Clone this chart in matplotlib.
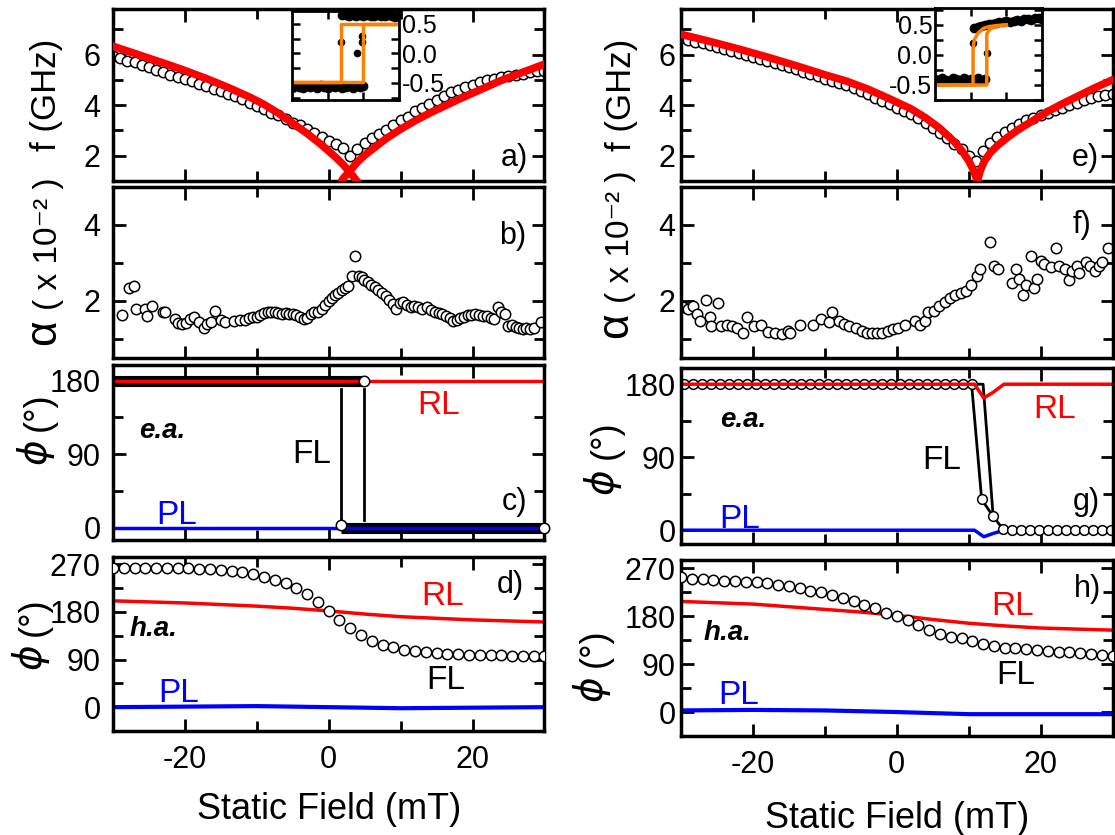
import matplotlib.pyplot as plt
from matplotlib.ticker import MultipleLocator

plt.rcParams['font.family'] = ['Liberation Sans', 'DejaVu Sans']
plt.rcParams['axes.unicode_minus'] = False

# ---------------- data ----------------
# (a) dispersion, left sample
a_field = list(range(-30, 31))
a_freq = [5.95, 5.85, 5.75, 5.7, 5.6, 5.5, 5.4, 5.3, 5.2, 5.1,
          5.05, 4.95, 4.85, 4.75, 4.65, 4.55, 4.45, 4.35, 4.25, 4.1,
          3.95, 3.85, 3.7, 3.6, 3.45, 3.3, 3.2, 3.05, 2.9, 2.75,
          2.6, 2.45, 2.3, 2.0, 2.25, 2.5, 2.7, 2.85, 3.0, 3.2,
          3.4, 3.55, 3.75, 3.9, 4.05, 4.2, 4.35, 4.5, 4.6, 4.7,
          4.8, 4.9, 5.0, 5.05, 5.1, 5.15, 5.2, 5.25, 5.3, 5.35, 5.35]
a_fit1_field = [-30, -26, -22, -20, -17, -14, -11, -9, -7, -5, -3, -1, 1, 2, 3, 4, 4.5]
a_fit1 = [6.33, 5.95, 5.57, 5.37, 5.05, 4.7, 4.32, 4.03, 3.68, 3.28, 2.88, 2.43, 1.93,
          1.65, 1.33, 0.97, 0.8]
a_fit2_field = [1.5, 2, 3, 4, 5, 6.5, 8, 10, 12, 14, 16, 18, 21, 24, 27, 30]
a_fit2 = [0.85, 1.1, 1.42, 1.75, 2.02, 2.35, 2.68, 3.05, 3.38, 3.68, 3.95, 4.22, 4.6,
          4.98, 5.3, 5.62]

# inset of (a): hysteresis loop
ia_low_field = [-30, -28, -26, -24, -22, -20, -18, -16, -14, -12, -10,
                -8, -6, -4, -2, 0, 2, 4, 6, 8, 10]
ia_low = [-0.58, -0.56, -0.57, -0.59, -0.55, -0.57, -0.56, -0.58, -0.54, -0.57, -0.58,
          -0.55, -0.57, -0.56, -0.58, -0.57, -0.55, -0.58, -0.56, -0.57, -0.56]
ia_high_field = [-2, 0, 2, 4, 6, 8, 10, 12, 14, 16, 18, 20, 22, 24, 26, 28, 30]
ia_high = [0.65, 0.66, 0.64, 0.65, 0.63, 0.66, 0.64, 0.65, 0.63, 0.64, 0.66,
           0.64, 0.63, 0.65, 0.64, 0.62, 0.63]
ia_mid_field = [-2.5, 6.4, 9.1, 9.5]
ia_mid = [0.19, 0.0, 0.29, 0.19]
ia_up_field = [-30, 10, 10, 30]
ia_up = [-0.48, -0.48, 0.5, 0.5]
ia_down_field = [30, -2.5, -2.5, -30]
ia_down = [0.5, 0.5, -0.48, -0.48]

# (b) damping, left sample
b_field = [-28.7, -27.8, -27.1, -26.8, -25.6, -25.2, -24.6, -23.1, -22.8, -21.4,
           -21.0, -20.4, -19.9, -19.3, -18.7, -18.0, -17.3, -16.9, -16.4, -15.8,
           -15.0, -14.4, -13.2, -12.3, -11.7, -11.1, -10.5, -10.0, -9.5, -9.0,
           -8.5, -8.0, -7.5, -7.0, -6.5, -6.0, -5.5, -5.0, -4.5, -4.0,
           -3.5, -3.0, -2.5, -2.0, -1.5, -1.0, -0.5, 0.0, 0.4, 0.9,
           1.3, 1.8, 2.2, 2.7, 3.2, 3.6, 4.2, 4.6, 4.9, 5.4,
           5.9, 6.4, 6.9, 7.4, 7.9, 8.4, 8.9, 9.3, 9.9, 10.4,
           10.9, 11.4, 11.9, 12.4, 13.0, 13.6, 14.2, 14.8, 15.3, 15.8,
           16.3, 16.8, 17.3, 17.8, 18.3, 18.8, 19.3, 19.8, 20.3, 20.9,
           21.5, 22.0, 22.5, 23.0, 23.6, 24.0, 24.5, 25.0, 25.5, 26.0,
           26.5, 27.0, 27.5, 28.0, 28.5, 29.5]
b_alpha = [1.63, 2.34, 2.40, 1.80, 1.78, 1.61, 1.87, 1.72, 1.70, 1.53,
           1.42, 1.40, 1.42, 1.52, 1.57, 1.44, 1.28, 1.40, 1.44, 1.74,
           1.50, 1.44, 1.48, 1.50, 1.51, 1.55, 1.57, 1.58, 1.62, 1.68,
           1.70, 1.72, 1.70, 1.68, 1.66, 1.68, 1.67, 1.66, 1.63, 1.58,
           1.53, 1.55, 1.66, 1.70, 1.72, 1.80, 1.89, 2.00, 2.09, 2.15,
           2.20, 2.28, 2.35, 2.40, 2.65, 3.18, 2.65, 2.62, 2.56, 2.50,
           2.43, 2.36, 2.30, 2.22, 2.13, 2.02, 1.91, 1.78, 1.95, 1.96,
           1.90, 1.83, 1.86, 1.83, 1.78, 1.83, 1.75, 1.70, 1.68, 1.66,
           1.60, 1.55, 1.48, 1.50, 1.55, 1.57, 1.62, 1.64, 1.66, 1.63,
           1.61, 1.60, 1.56, 1.53, 1.83, 1.72, 1.66, 1.35, 1.38, 1.31,
           1.29, 1.27, 1.30, 1.27, 1.28, 1.44]

# (c) easy axis angles, left sample
c_rl_field = [-30, 30]
c_rl = [180, 180]
c_pl_field = [-30, 30]
c_pl = [0, 0]
c_fl_top_field = [-30, 4.9]
c_fl_top = [180, 180]
c_fl_bot_field = [1.7, 30]
c_fl_bot = [0, 0]
c_sw1_field = [1.7, 1.7]
c_sw1 = [8, 170]
c_sw2_field = [4.9, 4.9]
c_sw2 = [10, 170]
c_pts_field = [4.9, 1.7, 30]
c_pts = [180, 3, 0]

# (d) hard axis angles, left sample
d_field = [-30, -28.5, -27, -25.5, -24, -22.5, -21, -19.5, -18, -16.5,
           -15, -13.5, -12, -10.5, -9, -7.5, -6, -4.5, -3, -1.5,
           0, 1.5, 3, 4.5, 6, 7.5, 9, 10.5, 12, 13.5,
           15, 16.5, 18, 19.5, 21, 22.5, 24, 25.5, 27, 28.5, 30]
d_fl = [264, 264, 264, 264, 264, 264, 263, 263, 262, 261,
        260, 258, 255, 251, 247, 241, 234, 225, 214, 199,
        182, 165, 150, 137, 126, 118, 113, 109, 106, 104,
        102, 101, 100, 99.5, 99, 98.5, 98, 97.5, 97, 96.5, 96]
d_rl_field = [-30, -20, -10, -5, 0, 5, 10, 15, 20, 25, 30]
d_rl = [201, 197, 191, 187, 182, 176, 171, 168, 165, 163, 161]
d_pl_field = [-30, -20, -10, 0, 10, 20, 30]
d_pl = [0, 1, 2, 0, -2, -1, 0]

# (e) dispersion, right sample
e_field = list(range(-30, 31))
e_freq = [6.65, 6.58, 6.51, 6.44, 6.37, 6.3, 6.22, 6.14, 6.06, 5.98,
          5.9, 5.82, 5.74, 5.66, 5.58, 5.5, 5.41, 5.32, 5.23, 5.14,
          5.05, 4.96, 4.87, 4.78, 4.68, 4.55, 4.43, 4.3, 4.17, 4.04,
          3.9, 3.78, 3.64, 3.5, 3.3, 3.1, 2.9, 2.7, 2.48, 2.25,
          2.0, 1.8, 2.2, 2.5, 2.75, 2.95, 3.1, 3.25, 3.4, 3.5,
          3.6, 3.7, 3.8, 3.9, 4.0, 4.1, 4.2, 4.3, 4.35, 4.4, 4.45]
e_fit1_field = [-30, -26, -22, -18, -14, -10, -7, -4, -1, 2, 4, 6, 8, 9, 10, 10.7, 11.2]
e_fit1 = [6.8, 6.52, 6.22, 5.9, 5.56, 5.2, 4.95, 4.63, 4.25, 3.85, 3.5, 3.08, 2.55,
          2.22, 1.8, 1.4, 1.0]
e_fit2_field = [11.2, 11.6, 12.2, 13, 14, 15.5, 17, 19, 21, 23, 25, 27.5, 30]
e_fit2 = [1.0, 1.4, 1.8, 2.12, 2.4, 2.75, 3.05, 3.4, 3.75, 4.05, 4.33, 4.68, 5.0]

# inset of (e)
ie_low_field = [-30, -28, -26, -24, -22, -20, -18, -16, -14, -12, -10, -8, -6, -4, -2]
ie_low = [-0.40, -0.42, -0.38, -0.41, -0.43, -0.39, -0.40, -0.42, -0.38, -0.41,
          -0.40, -0.43, -0.39, -0.41, -0.40]
ie_high_field = [-8, -6, -4, -2, 0, 2, 4, 6, 8, 10, 12, 14, 16, 18, 20, 22, 24, 26, 28, 30]
ie_high = [0.45, 0.47, 0.48, 0.50, 0.52, 0.51, 0.53, 0.55, 0.54, 0.56,
           0.55, 0.57, 0.58, 0.56, 0.59, 0.60, 0.58, 0.61, 0.62, 0.60]
ie_mid_field = [-8.7, -1.0]
ie_mid = [0.2, 0.03]
ie_down_field = [10, 5, 0, -3, -6, -8, -8.7, -8.7, -30]
ie_down = [0.5, 0.49, 0.47, 0.44, 0.36, 0.25, 0.1, -0.5, -0.5]
ie_up_field = [-30, -1, -1, 1, 5, 10]
ie_up = [-0.5, -0.5, 0.35, 0.44, 0.48, 0.5]

# (f) damping, right sample
f_field = [-29.7, -29.1, -28.4, -27.8, -27.3, -26.5, -26.0, -25.8, -24.9, -24.4,
           -23.6, -22.9, -22.2, -21.4, -20.8, -19.9, -18.9, -17.9, -16.9, -15.9,
           -15.1, -14.8, -13.4, -11.6, -10.5, -9.4, -9.0, -8.1, -7.4, -6.7,
           -5.7, -4.9, -4.2, -3.4, -2.7, -2.0, -1.2, -0.5, 0.2, 1.2,
           2.5, 3.2, 3.9, 4.4, 5.2, 5.9, 6.7, 7.4, 8.1, 8.9,
           9.6, 10.3, 11.1, 11.6, 13.0, 13.5, 14.1, 16.0, 16.6, 17.0,
           17.5, 18.0, 18.6, 19.1, 19.5, 20.0, 20.5, 21.4, 22.2, 22.5,
           23.4, 24.0, 24.3, 25.0, 25.4, 26.3, 26.8, 27.6, 28.1, 28.6, 29.4]
f_alpha = [1.83, 1.78, 1.87, 1.65, 1.48, 2.03, 1.57, 1.35, 1.94, 1.35,
           1.37, 1.33, 1.29, 1.17, 1.59, 1.35, 1.37, 1.19, 1.17, 1.13,
           1.22, 1.17, 1.37, 1.37, 1.52, 1.45, 1.71, 1.48, 1.39, 1.35,
           1.28, 1.22, 1.17, 1.16, 1.16, 1.17, 1.22, 1.26, 1.29, 1.37,
           1.48, 1.37, 1.48, 1.70, 1.74, 1.87, 1.97, 2.09, 2.17, 2.22,
           2.26, 2.41, 2.65, 2.84, 3.54, 2.93, 2.83, 2.46, 2.83, 2.58,
           2.15, 2.41, 3.19, 2.35, 2.57, 3.06, 2.96, 2.90, 3.39, 2.91,
           2.83, 2.55, 2.78, 2.93, 2.74, 3.02, 2.93, 2.78, 2.91, 3.02, 3.39]

# (g) easy axis angles, right sample
g_top_field = [-29.6, -28.35, -27.1, -25.85, -24.6, -23.35, -22.1, -20.85, -19.6, -18.35,
               -17.1, -15.85, -14.6, -13.35, -12.1, -10.85, -9.6, -8.35, -7.1, -5.85,
               -4.6, -3.35, -2.1, -0.85, 0.4, 1.65, 2.9, 4.15, 5.4, 6.65,
               7.9, 9.15, 10.4, 11.8, 13.4, 14.8, 16.05, 17.3, 18.55, 19.8,
               21.05, 22.3, 23.55, 24.8, 26.05, 27.3, 28.55, 29.8]
g_fl = [180, 180, 180, 180, 180, 180, 180, 180, 180, 180,
        180, 180, 180, 180, 180, 180, 180, 180, 180, 180,
        180, 180, 180, 180, 180, 180, 180, 180, 180, 180,
        180, 180, 180, 38, 17, 1, 0, 0, 0, 0,
        0, 0, 0, 0, 0, 0, 0, 0]
g_fl2_field = [-30, 12.0, 13.4]
g_fl2 = [180, 180, 17]
g_rl_field = [-30, 10.8, 12.1, 13.4, 14.9, 30]
g_rl = [180, 180, 163, 170, 180, 180]
g_pl_field = [-30, 10.8, 12.1, 13.4, 14.9, 30]
g_pl = [0, 0, -8, -4, 0, 0]

# (h) hard axis angles, right sample
h_field = d_field
h_fl = [253.7, 250.4, 250.4, 249.1, 247.2, 245.9, 245.2, 243.9, 242.0, 239.4,
        236.1, 232.9, 227.6, 225.7, 219.8, 214.6, 208.0, 201.5, 195.0, 186.5,
        180.0, 172.2, 164.4, 154.0, 146.1, 140.9, 138.3, 133.1, 127.9, 123.3,
        121.3, 120.0, 118.7, 116.8, 114.8, 113.5, 112.2, 110.3, 109.0, 107.0, 105.7]
h_rl_field = [-30, -20, -10, -5, 0, 5, 10, 15, 20, 25, 30]
h_rl = [208, 203, 193, 188, 182, 174, 167, 162, 158, 156, 154]
h_pl_field = [-30, -20, -10, 0, 10, 20, 30]
h_pl = [3, 4, 3, 0, -4, -4, -4]

# ---------------- figure ----------------
fig = plt.figure(figsize=(11.15, 8.35), dpi=100)
col_w = 0.387
left_rows = [(0.7832, 0.2060), (0.5713, 0.2048), (0.3533, 0.2096), (0.1246, 0.2084)]
right_rows = [(0.7832, 0.2060), (0.5713, 0.2048), (0.3485, 0.2108), (0.1186, 0.2108)]

axes = [[fig.add_axes([0.1013, rb, col_w, rh]) for rb, rh in left_rows],
        [fig.add_axes([0.6108, rb, col_w, rh]) for rb, rh in right_rows]]

TICK = 22
ANN = 24


def style(ax, ylim, ymaj, ymin, ypad, xlabels=False, xlabpad=12):
    ax.set_xlim(-30, 30)
    ax.set_ylim(*ylim)
    ax.xaxis.set_major_locator(MultipleLocator(20))
    ax.xaxis.set_minor_locator(MultipleLocator(10))
    ax.yaxis.set_major_locator(MultipleLocator(ymaj))
    ax.yaxis.set_minor_locator(MultipleLocator(ymin))
    ax.tick_params(which='both', direction='in', top=True, right=True, width=2)
    ax.tick_params(which='major', length=9, labelsize=TICK)
    ax.tick_params(which='minor', length=7)
    ax.tick_params(axis='y', pad=ypad)
    ax.tick_params(axis='x', pad=10)
    for s in ax.spines.values():
        s.set_linewidth(2.5)
    ax.tick_params(labelbottom=xlabels)
    if xlabels:
        ax.set_xlabel('Static Field (mT)', fontsize=26, labelpad=xlabpad)


def style_inset(ins, ylim, labels_right):
    ins.set_xlim(-30, 30)
    ins.set_ylim(*ylim)
    ins.set_xticks([-10, 10])
    ins.yaxis.set_major_locator(MultipleLocator(0.5))
    ins.yaxis.set_minor_locator(MultipleLocator(0.25))
    ins.yaxis.set_major_formatter(plt.FormatStrFormatter('%.1f'))
    ins.tick_params(which='both', direction='in', top=True, right=True, width=1.8,
                    length=6, labelbottom=False, labelleft=not labels_right,
                    labelright=labels_right, labelsize=18, pad=2)
    for s in ins.spines.values():
        s.set_linewidth(2)


def two_part_label(ax, big, big_y, rest, rest_y, x, big_size=30, rest_size=24):
    # the greek symbol is set larger than the units, as in the original
    ax.text(x, big_y, big, rotation=90, fontsize=big_size, ha='right', va='center',
            transform=ax.transAxes)
    ax.text(x, rest_y, rest, rotation=90, fontsize=rest_size, ha='right', va='center',
            transform=ax.transAxes)


circ = dict(ls='none', marker='o', mfc='white', mec='black', ms=7.5, mew=1.1)
dots = dict(ls='none', marker='o', color='black', ms=6)
bold_it = dict(fontsize=20, fontweight='bold', fontstyle='italic', ha='center', va='center')
orange = '#ff8000'

# ---- left column ----
ax = axes[0][0]
ax.plot(a_field, a_freq, **circ)
ax.plot(a_fit1_field, a_fit1, color='red', lw=5.5, zorder=3)
ax.plot(a_fit2_field, a_fit2, color='red', lw=5.5, zorder=3)
style(ax, (1.0, 7.8), 2, 1, 9)
ax.set_yticks([2, 4, 6])
ax.set_ylabel('f (GHz)', fontsize=25)
ax.yaxis.set_label_coords(-0.115, 0.5)
ax.text(25.8, 1.9, 'a)', fontsize=22, ha='center', va='center')

ins = fig.add_axes([0.2619, 0.8802, 0.096, 0.1066])
ins.plot(ia_low_field, ia_low, **dots)
ins.plot(ia_high_field, ia_high, **dots)
ins.plot(ia_mid_field, ia_mid, ls='none', marker='o', color='black', ms=4.5)
ins.plot(ia_up_field, ia_up, color=orange, lw=2.5)
ins.plot(ia_down_field, ia_down, color=orange, lw=2.5)
style_inset(ins, (-0.79, 0.72), True)

ax = axes[0][1]
ax.plot(b_field, b_alpha, **circ)
style(ax, (0.5, 5.0), 2, 1, 9)
ax.set_yticks([2, 4])
two_part_label(ax, 'α', 0.15, '( x 10⁻² )', 0.67, -0.113, big_size=32, rest_size=24)
ax.text(25.6, 3.72, 'b)', fontsize=22, ha='center', va='center')

ax = axes[0][2]
ax.plot(c_fl_top_field, c_fl_top, color='black', lw=8, solid_capstyle='butt')
ax.plot(c_fl_bot_field, c_fl_bot, color='black', lw=8, solid_capstyle='butt')
ax.plot(c_sw1_field, c_sw1, color='black', lw=2)
ax.plot(c_sw2_field, c_sw2, color='black', lw=2)
ax.plot(c_rl_field, c_rl, color='red', lw=2.5)
ax.plot(c_pl_field, c_pl, color='blue', lw=2.5)
ax.plot(c_pts_field, c_pts, **circ, zorder=4, clip_on=False)
style(ax, (-15, 199), 90, 45, 9)
two_part_label(ax, r'$\phi$', 0.50, '(°)', 0.735, -0.13, big_size=28, rest_size=26)
ax.text(15.3, 149, 'RL', color='red', ha='center', va='center', fontsize=ANN)
ax.text(-2.3, 89, 'FL', color='black', ha='center', va='center', fontsize=ANN)
ax.text(-21.1, 14.5, 'PL', color='blue', ha='center', va='center', fontsize=ANN)
ax.text(-23.1, 118, 'e.a.', **bold_it)
ax.text(25.8, 31, 'c)', fontsize=22, ha='center', va='center')

ax = axes[0][3]
ax.plot(d_rl_field, d_rl, color='red', lw=2.5)
ax.plot(d_pl_field, d_pl, color='blue', lw=3)
ax.plot(d_field, d_fl, **circ, zorder=3)
style(ax, (-45, 284), 90, 45, 9, xlabels=True, xlabpad=12)
two_part_label(ax, r'$\phi$', 0.42, '(°)', 0.655, -0.141, big_size=28, rest_size=26)
ax.text(15.8, 209, 'RL', color='red', ha='center', va='center', fontsize=ANN)
ax.text(16.2, 51, 'FL', color='black', ha='center', va='center', fontsize=ANN)
ax.text(-20.9, 26, 'PL', color='blue', ha='center', va='center', fontsize=ANN)
ax.text(-24.4, 148, 'h.a.', **bold_it)
ax.text(25.3, 231, 'd)', fontsize=22, ha='center', va='center')

# ---- right column ----
ax = axes[1][0]
ax.plot(e_field, e_freq, **circ)
ax.plot(e_fit1_field, e_fit1, color='red', lw=5.5, zorder=3)
ax.plot(e_fit2_field, e_fit2, color='red', lw=5.5, zorder=3)
style(ax, (1.0, 7.8), 2, 1, 4)
ax.set_yticks([2, 4, 6])
ax.set_ylabel('f (GHz)', fontsize=25)
ax.yaxis.set_label_coords(-0.10, 0.5)
ax.text(26.2, 1.9, 'e)', fontsize=22, ha='center', va='center')

ins = fig.add_axes([0.8386, 0.8802, 0.096, 0.1102])
ins.plot(ie_low_field, ie_low, **dots)
ins.plot(ie_high_field, ie_high, **dots)
ins.plot(ie_mid_field, ie_mid, ls='none', marker='o', color='black', ms=4.5)
ins.plot(ie_down_field, ie_down, color=orange, lw=2.5)
ins.plot(ie_up_field, ie_up, color=orange, lw=2.5)
style_inset(ins, (-0.75, 0.78), False)

ax = axes[1][1]
ax.plot(f_field, f_alpha, **circ)
style(ax, (0.5, 5.0), 2, 1, 4)
ax.set_yticks([2, 4])
two_part_label(ax, 'α', 0.19, '( x 10⁻² )', 0.71, -0.104, big_size=32, rest_size=24)
ax.text(25.8, 4.0, 'f)', fontsize=22, ha='center', va='center')

ax = axes[1][2]
ax.plot(g_pl_field, g_pl, color='blue', lw=2.5)
ax.plot(g_fl2_field, g_fl2, color='black', lw=2)
ax.plot(g_top_field, g_fl, color='black', lw=2, marker='o', mfc='white',
        mec='black', ms=7, mew=1.1)
ax.plot(g_rl_field, g_rl, color='red', lw=2.5)
style(ax, (-17, 200), 90, 45, 4)
two_part_label(ax, r'$\phi$', 0.35, '(°)', 0.59, -0.132, big_size=28, rest_size=26)
ax.text(21.9, 149, 'RL', color='red', ha='center', va='center', fontsize=ANN)
ax.text(6.2, 86, 'FL', color='black', ha='center', va='center', fontsize=ANN)
ax.text(-21.9, 13, 'PL', color='blue', ha='center', va='center', fontsize=ANN)
ax.text(-21.4, 136, 'e.a.', **bold_it)
ax.text(26.4, 35, 'g)', fontsize=22, ha='center', va='center')

ax = axes[1][3]
ax.plot(h_rl_field, h_rl, color='red', lw=2.5)
ax.plot(h_pl_field, h_pl, color='blue', lw=3)
ax.plot(h_field, h_fl, **circ, zorder=3)
style(ax, (-45, 286), 90, 45, 4, xlabels=True, xlabpad=15)
two_part_label(ax, r'$\phi$', 0.26, '(°)', 0.50, -0.158, big_size=28, rest_size=26)
ax.text(16.1, 198, 'RL', color='red', ha='center', va='center', fontsize=ANN)
ax.text(16.6, 68, 'FL', color='black', ha='center', va='center', fontsize=ANN)
ax.text(-22, 32, 'PL', color='blue', ha='center', va='center', fontsize=ANN)
ax.text(-23.5, 149, 'h.a.', **bold_it)
ax.text(26.5, 231, 'h)', fontsize=22, ha='center', va='center')

fig.savefig('out.png', dpi=100)
